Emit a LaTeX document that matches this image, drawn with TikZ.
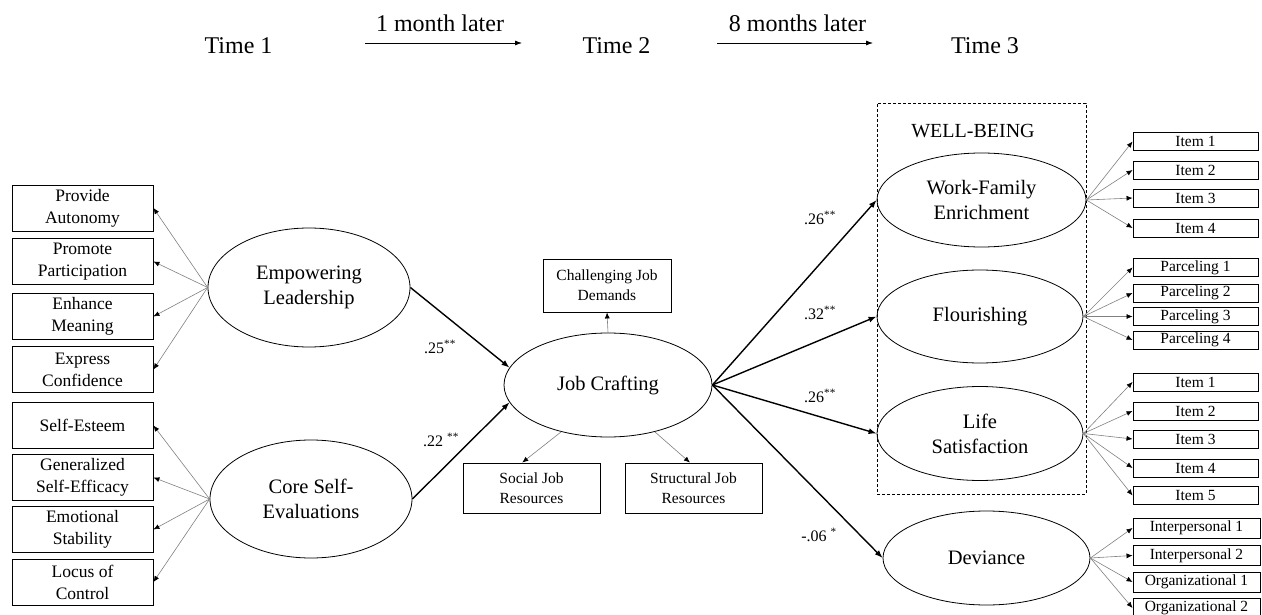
\documentclass[tikz,border=0pt]{standalone}
\usepackage{fontspec}
\setmainfont{Liberation Serif}
\usetikzlibrary{shapes.geometric,arrows.meta}
\begin{document}
\begin{tikzpicture}[x=1pt,y=-1pt,
  lat/.style={ellipse,draw=black,line width=0.8pt,inner sep=0pt,align=center,font=\fontsize{20.5}{25}\selectfont},
  lbox/.style={rectangle,draw=black,line width=0.9pt,inner sep=0pt,minimum width=141pt,minimum height=46pt,align=center,font=\fontsize{17.5}{22}\selectfont},
  jbox/.style={rectangle,draw=black,line width=0.9pt,inner sep=0pt,minimum width=137pt,minimum height=50pt,align=center,font=\fontsize{15.5}{20}\selectfont},
  ibox/.style={rectangle,draw=black,line width=0.9pt,inner sep=0pt,minimum width=125pt,minimum height=18pt,font=\fontsize{15.5}{18}\selectfont},
  dbox/.style={rectangle,draw=black,line width=0.9pt,inner sep=0pt,minimum width=127pt,minimum height=20pt,font=\fontsize{15.5}{18}\selectfont},
  timetxt/.style={inner sep=0pt,font=\fontsize{24}{28}\selectfont},
  coef/.style={inner sep=0pt,font=\fontsize{16}{18}\selectfont},
  thin/.style={draw=gray,line width=0.6pt,-{Latex[length=6pt,width=5pt,color=black]}},
  thick/.style={draw=black,line width=1.4pt,-{Latex[length=8pt,width=6pt]}},
  tarrow/.style={draw=black,line width=0.8pt,-{Latex[length=7pt,width=5pt]}}
]
\useasboundingbox (0,0) rectangle (1262,615);
\clip (0,0) rectangle (1262,615);

% time row
\node[timetxt] (t1) at (238.5,46) {Time 1};
\node[timetxt] (t2) at (616.5,46) {Time 2};
\node[timetxt] (t3) at (985,46) {Time 3};
\node[timetxt] (m1) at (440,23) {1 month later};
\node[timetxt] (m8) at (797.5,23) {8 months later};
\coordinate (a1s) at (365,43);
\coordinate (a1e) at (522,43);
\coordinate (a2s) at (717,43);
\coordinate (a2e) at (873,43);
\draw[tarrow] (a1s) -- (a1e);
\draw[tarrow] (a2s) -- (a2e);

% left boxes
\node[lbox] (b1) at (82.5,208) {Provide\\Autonomy};
\node[lbox] (b2) at (82.5,261.5) {Promote\\Participation};
\node[lbox] (b3) at (82.5,316.5) {Enhance\\Meaning};
\node[lbox] (b4) at (82.5,369.5) {Express\\Confidence};
\node[lbox] (b5) at (82.5,425.5) {Self-Esteem};
\node[lbox] (b6) at (82.5,477.5) {Generalized\\Self-Efficacy};
\node[lbox] (b7) at (82.5,529.5) {Emotional\\Stability};
\node[lbox] (b8) at (82.5,582) {Locus of\\Control};

% latent variables
\node[lat,minimum width=202pt,minimum height=119pt] (el) at (309,287.5) {Empowering\\Leadership};
\node[lat,minimum width=202pt,minimum height=118pt] (cse) at (311,499) {Core Self-\\Evaluations};
\node[lat,minimum width=208pt,minimum height=104pt] (jc) at (608,385) {Job Crafting};

% well-being frame
\node[draw=black,dashed,dash pattern=on 3pt off 2pt,line width=0.8pt,minimum width=209pt,minimum height=391pt,inner sep=0pt] (wb) at (981.5,298.5) {};
\node[inner sep=0pt,font=\fontsize{20}{24}\selectfont] (wbl) at (973,131) {WELL-BEING};

\node[lat,minimum width=209pt,minimum height=94pt] (wfe) at (981.5,200) {Work-Family\\Enrichment};
\node[lat,minimum width=206pt,minimum height=93pt] (fl) at (980,316.5) {Flourishing};
\node[lat,minimum width=206pt,minimum height=94pt] (ls) at (980,433.5) {Life\\Satisfaction};
\node[lat,minimum width=207pt,minimum height=94pt] (dv) at (986.5,558) {Deviance};

% job crafting indicators
\node[jbox,minimum width=128pt,minimum height=53pt] (cjd) at (607,285.5) {Challenging Job\\Demands};
\node[jbox] (sjr) at (531.5,488) {Social Job\\Resources};
\node[jbox] (srj) at (693.5,488) {Structural Job\\Resources};

% right indicators
\node[ibox] (w1) at (1195.5,141.5) {Item 1};
\node[ibox] (w2) at (1195.5,170) {Item 2};
\node[ibox] (w3) at (1195.5,198) {Item 3};
\node[ibox] (w4) at (1195.5,228) {Item 4};
\node[ibox] (f1) at (1195.5,267.5) {Parceling 1};
\node[ibox] (f2) at (1195.5,293) {Parceling 2};
\node[ibox] (f3) at (1195.5,316.5) {Parceling 3};
\node[ibox] (f4) at (1195.5,340) {Parceling 4};
\node[ibox] (s1) at (1195.5,382) {Item 1};
\node[ibox] (s2) at (1195.5,411) {Item 2};
\node[ibox] (s3) at (1195.5,439) {Item 3};
\node[ibox] (s4) at (1195.5,468) {Item 4};
\node[ibox] (s5) at (1195.5,495.5) {Item 5};
\node[dbox] (d1) at (1196.5,528) {Interpersonal 1};
\node[dbox] (d2) at (1196.5,555.5) {Interpersonal 2};
\node[dbox] (d3) at (1196.5,582) {Organizational 1};
\node[dbox] (d4) at (1196.5,608) {Organizational 2};

% loadings
\foreach \b in {b1,b2,b3,b4} \draw[thin] (el.west) -- (\b.east);
\foreach \b in {b5,b6,b7,b8} \draw[thin] (cse.west) -- (\b.east);
\draw[thin] (jc.north) -- (cjd.south);
\draw[thin] (jc.225) -- (sjr.110);
\draw[thin] (jc.315) -- (srj.98);
\foreach \b in {w1,w2,w3,w4} \draw[thin] (wfe.east) -- (\b.west);
\foreach \b in {f1,f2,f3,f4} \draw[thin] (fl.east) -- (\b.west);
\foreach \b in {s1,s2,s3,s4,s5} \draw[thin] (ls.east) -- (\b.west);
\foreach \b in {d1,d2,d3,d4} \draw[thin] (dv.east) -- (\b.west);

% structural paths
\draw[thick] (el.east) -- (jc.170);
\draw[thick] (cse.east) -- (jc.190);
\draw[thick] (jc.east) -- (wfe.west);
\draw[thick] (jc.east) -- (fl.west);
\draw[thick] (jc.east) -- (ls.west);
\draw[thick] (jc.east) -- (dv.west);

% coefficients
\node[coef] (c1) at (440,347) {.25\textsuperscript{**}};
\node[coef] (c2) at (441,440) {.22 \textsuperscript{**}};
\node[coef] (c3) at (820,218) {.26\textsuperscript{**}};
\node[coef] (c4) at (820,313) {.32\textsuperscript{**}};
\node[coef] (c5) at (820,396) {.26\textsuperscript{**}};
\node[coef] (c6) at (819,535) {-.06 \textsuperscript{*}};
\end{tikzpicture}
\end{document}
